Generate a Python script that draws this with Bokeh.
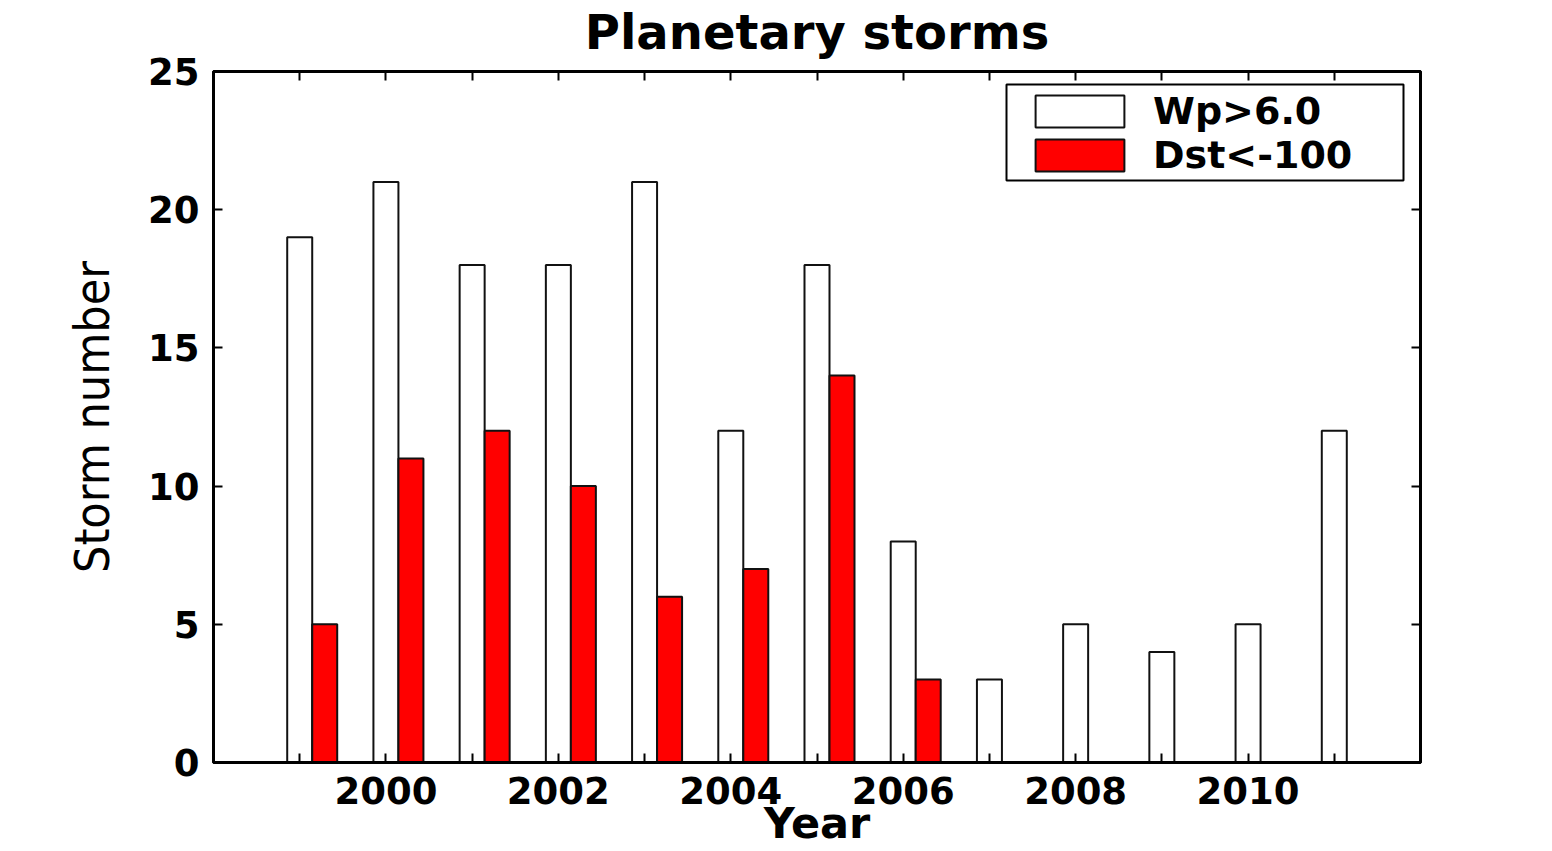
from bokeh.plotting import figure
from bokeh.models import (ColumnDataSource, FixedTicker, LinearAxis, Range1d,
                          Legend, LegendItem, BoxAnnotation)
from bokeh.transform import dodge
from bokeh.embed import file_html
from bokeh.resources import INLINE

years = [1999, 2000, 2001, 2002, 2003, 2004, 2005, 2006, 2007, 2008, 2009, 2010, 2011]
wp_counts = [19, 21, 18, 18, 21, 12, 18, 8, 3, 5, 4, 5, 12]
dst_counts = [5, 11, 12, 10, 6, 7, 14, 3, 0, 0, 0, 0, 0]
x_major = [2000, 2002, 2004, 2006, 2008, 2010]
x_minor = [1999, 2001, 2003, 2005, 2007, 2009, 2011]
y_ticks = [0, 5, 10, 15, 20, 25]
title_text = "Planetary storms"

src = ColumnDataSource(dict(year=years, wp=wp_counts, dst=dst_counts))

BOLD = "DejaVu Sans"
p = figure(width=1552, height=851, output_backend="svg", toolbar_location=None,
           x_range=Range1d(1998, 2012), y_range=Range1d(0, 25),
           min_border_left=213, min_border_right=132, min_border_top=71,
           min_border_bottom=89, background_fill_color="white",
           border_fill_color="white")
p.title.text = ""
p.title.visible = False

p.xgrid.visible = False
p.ygrid.visible = False
p.outline_line_color = "black"
p.outline_line_width = 3

w = 0.29
r1 = p.vbar(x="year", top="wp", width=w, source=src, fill_color="white",
            line_color="#111111", line_width=2)
r2 = p.vbar(x=dodge("year", w), top="dst", width=w, source=src, fill_color="#ff0000",
            line_color="#111111", line_width=2)

def style_axis(ax, labels=True):
    ax.axis_line_color = "black"
    ax.axis_line_width = 3
    ax.major_tick_in = 9
    ax.major_tick_out = 0
    ax.minor_tick_in = 9
    ax.minor_tick_out = 0
    ax.major_tick_line_width = 2
    ax.minor_tick_line_width = 2
    ax.major_tick_line_color = "black"
    ax.minor_tick_line_color = "black"
    ax.major_label_text_font = BOLD
    ax.major_label_text_font_style = "bold"
    ax.major_label_text_font_size = "37px"
    ax.major_label_text_color = "black"
    if not labels:
        ax.major_label_text_font_size = "0px"
        ax.major_label_text_alpha = 0
        ax.major_label_standoff = 0

xax = p.xaxis[0]
xax.ticker = FixedTicker(ticks=x_major, minor_ticks=x_minor)
style_axis(xax)
xax.major_label_standoff = 14
xax.axis_label = "Year"
xax.axis_label_text_font = BOLD
xax.axis_label_text_font_style = "bold"
xax.axis_label_text_font_size = "43px"
xax.axis_label_text_color = "black"
xax.axis_label_standoff = -9

yax = p.yaxis[0]
yax.ticker = FixedTicker(ticks=y_ticks)
style_axis(yax)
yax.minor_tick_in = 0
yax.major_label_standoff = 14
yax.axis_label = "Storm number"
yax.axis_label_text_font = "'Liberation Sans Narrow', 'DejaVu Sans Condensed', 'Liberation Sans'"
yax.axis_label_text_font_style = "normal"
yax.axis_label_text_font_size = "48px"
yax.axis_label_text_color = "black"
yax.axis_label_standoff = 25

# top axis carries the chart title as its label
top_ax = LinearAxis(ticker=FixedTicker(ticks=x_major, minor_ticks=x_minor))
style_axis(top_ax, labels=False)
top_ax.axis_label = title_text
top_ax.axis_label_text_font = BOLD
top_ax.axis_label_text_font_style = "bold"
top_ax.axis_label_text_font_size = "48px"
top_ax.axis_label_text_color = "black"
top_ax.axis_label_standoff = 12
p.add_layout(top_ax, "above")

right_ax = LinearAxis(ticker=FixedTicker(ticks=y_ticks))
style_axis(right_ax, labels=False)
right_ax.minor_tick_in = 0
p.add_layout(right_ax, "right")

# legend frame
legend_box = BoxAnnotation(left=793, right=1190, top=678, bottom=582,
                           left_units="screen", right_units="screen",
                           top_units="screen", bottom_units="screen",
                           fill_color="white", fill_alpha=1,
                           line_color="black", line_width=2, line_alpha=1)
p.add_layout(legend_box)

legend = Legend(items=[LegendItem(label="Wp>6.0", renderers=[r1]),
                       LegendItem(label="Dst<-100", renderers=[r2])],
                location=(811, 585), orientation="vertical")
legend.label_text_font = BOLD
legend.label_text_font_style = "bold"
legend.label_text_font_size = "38px"
legend.label_text_color = "black"
legend.glyph_width = 111
legend.glyph_height = 40
legend.label_height = 40
legend.label_standoff = 18
legend.padding = 0
legend.spacing = 0
legend.margin = 0
legend.border_line_alpha = 0
legend.background_fill_alpha = 0
p.add_layout(legend, "center")

open("out.html", "w").write(file_html(p, INLINE))
